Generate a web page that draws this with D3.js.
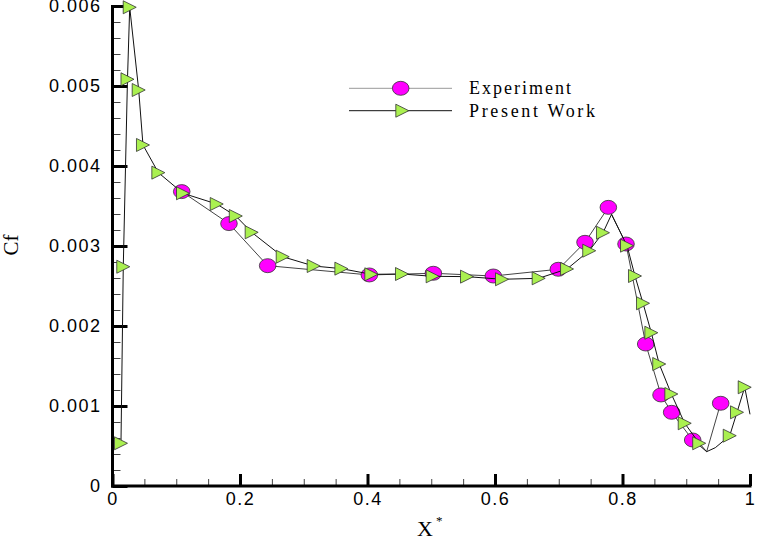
<!DOCTYPE html>
<html>
<head>
<meta charset="utf-8">
<script src="https://cdn.jsdelivr.net/npm/d3@7"></script>
<style>
  body { margin: 0; background: #fff; }
  svg { display: block; }
</style>
</head>
<body>
<div id="chart"></div>
<script>
// data
var expX = [0.1086, 0.1827, 0.2434, 0.4029, 0.5033, 0.5974, 0.6993, 0.7412, 0.7778, 0.8055, 0.8364, 0.8604, 0.8771, 0.9101, 0.932, 0.954];
var expCf = [0.00368, 0.00328, 0.002754, 0.002638, 0.002659, 0.002625, 0.002709, 0.003046, 0.003483, 0.003025, 0.001775, 0.001138, 0.000921, 0.000575, 0.000429, 0.001034];
var expMarked = [1,1,1,1,1,1,1,1,1,1,1,1,1,1,0,1];

var pwX = [0.0133, 0.0169, 0.0235, 0.027, 0.0411, 0.0478, 0.0719, 0.1106, 0.1635, 0.1934, 0.2183, 0.267, 0.3156, 0.359, 0.406, 0.4541, 0.5022, 0.5561, 0.611, 0.6685, 0.713, 0.7478, 0.7694, 0.7827, 0.8071, 0.8196, 0.8322, 0.8452, 0.8576, 0.8766, 0.8976, 0.9203, 0.932, 0.9456, 0.9682, 0.9796, 0.9917, 1.0];
var pwCf = [0.000534, 0.002741, 0.005084, 0.005984, 0.00495, 0.004263, 0.003917, 0.003659, 0.003525, 0.003375, 0.003171, 0.002866, 0.00275, 0.002717, 0.002646, 0.00265, 0.002621, 0.002617, 0.002584, 0.002596, 0.002713, 0.002941, 0.003166, 0.003394, 0.003004, 0.002625, 0.002284, 0.001916, 0.001525, 0.00115, 0.000784, 0.000534, 0.000429, 0.000479, 0.000629, 0.000921, 0.001234, 0.000896];
var pwMarked = [1,1,1,1,1,1,1,1,1,1,1,1,1,1,1,1,1,1,1,1,1,1,1,0,1,1,1,1,1,1,1,1,0,0,1,1,1,0];

var xMajor = [0, 0.2, 0.4, 0.6, 0.8, 1];
var xMajorLabels = ["0", "0.2", "0.4", "0.6", "0.8", "1"];
var yMajor = [0, 0.001, 0.002, 0.003, 0.004, 0.005, 0.006];
var yMajorLabels = ["0", "0.001", "0.002", "0.003", "0.004", "0.005", "0.006"];
var seriesNames = ["Experiment", "Present Work"];

var W = 757, H = 539;
var svg = d3.select("#chart").append("svg")
    .attr("width", W)
    .attr("height", H);

var x = d3.scaleLinear().domain([0, 1]).range([112.5, 750]);
var y = d3.scaleLinear().domain([0, 0.006]).range([486, 6]);

var magenta = "#ff00ff", green = "#aaf050";

// minor ticks
var xMinor = d3.range(0, 1.0001, 0.05).filter(function(d) { return Math.abs(d * 5 - Math.round(d * 5)) > 1e-6; });
var yMinor = d3.range(0, 0.00601, 0.0002).filter(function(d) { return Math.abs(d * 1000 - Math.round(d * 1000)) > 1e-6; });

svg.append("g")
    .attr("transform", "translate(0,486)")
    .call(d3.axisBottom(x).tickValues(xMinor).tickSize(-7).tickFormat(""))
    .call(function(g) { g.select(".domain").remove(); })
    .selectAll("line").attr("stroke", "#444").attr("stroke-width", 1);

svg.append("g")
    .attr("transform", "translate(112.5,0)")
    .call(d3.axisLeft(y).tickValues(yMinor).tickSize(-8).tickFormat(""))
    .call(function(g) { g.select(".domain").remove(); })
    .selectAll("line").attr("stroke", "#444").attr("stroke-width", 1);

// major ticks + labels
var xAxis = svg.append("g")
    .attr("transform", "translate(0,486)")
    .call(d3.axisBottom(x).tickValues(xMajor).tickSize(-12).tickPadding(6)
      .tickFormat(function(d, i) { return xMajorLabels[i]; }));
xAxis.select(".domain").remove();
xAxis.selectAll("line").attr("stroke", "#000").attr("stroke-width", 3);
xAxis.selectAll("text")
    .attr("fill", "#000")
    .style("font-family", "Liberation Sans, Arial, sans-serif")
    .style("font-size", "18px")
    .style("letter-spacing", "1.5px");

var yAxis = svg.append("g")
    .attr("transform", "translate(112.5,0)")
    .call(d3.axisLeft(y).tickValues(yMajor).tickSize(-15).tickPadding(11)
      .tickFormat(function(d, i) { return yMajorLabels[i]; }));
yAxis.select(".domain").remove();
yAxis.selectAll("line").attr("stroke", "#000").attr("stroke-width", 3);
yAxis.selectAll("text")
    .attr("fill", "#000")
    .style("font-family", "Liberation Sans, Arial, sans-serif")
    .style("font-size", "18px")
    .style("letter-spacing", "1.5px");

// axis lines
svg.append("line")
    .attr("x1", x(0) - 1.5).attr("x2", x(1) + 1.5)
    .attr("y1", y(0)).attr("y2", y(0))
    .attr("stroke", "#000").attr("stroke-width", 3);
svg.append("line")
    .attr("x1", x(0)).attr("x2", x(0))
    .attr("y1", y(0.006) - 1).attr("y2", y(0) + 1.5)
    .attr("stroke", "#000").attr("stroke-width", 3);

// axis titles
svg.append("text")
    .attr("transform", "translate(18,245) rotate(-90)")
    .style("text-anchor", "middle")
    .style("font-family", "Liberation Serif, Times New Roman, serif")
    .style("font-size", "21px")
    .text("Cf");

var xt = svg.append("text")
    .attr("x", 417).attr("y", 536)
    .style("font-family", "Liberation Serif, Times New Roman, serif")
    .style("font-size", "22px")
    .text("X");
xt.append("tspan")
    .attr("dx", 3).attr("dy", -11)
    .style("font-size", "13px")
    .text("*");

// series
var expData = expX.map(function(d, i) { return {x: d, y: expCf[i], m: expMarked[i]}; });
var pwData = pwX.map(function(d, i) { return {x: d, y: pwCf[i], m: pwMarked[i]}; });

var line = d3.line()
    .x(function(d) { return x(d.x); })
    .y(function(d) { return y(d.y); });

var tri = "M-6.5,-6.5L6.5,0L-6.5,6.5Z";

svg.append("path")
    .datum(expData)
    .attr("d", line)
    .attr("fill", "none")
    .attr("stroke", "#444")
    .attr("stroke-width", 1);

svg.selectAll(".exp")
    .data(expData.filter(function(d) { return d.m; }))
  .enter().append("ellipse")
    .attr("class", "exp")
    .attr("cx", function(d) { return x(d.x); })
    .attr("cy", function(d) { return y(d.y); })
    .attr("rx", 8.3)
    .attr("ry", 7)
    .attr("fill", magenta)
    .attr("stroke", "#333")
    .attr("stroke-width", 0.8);

svg.append("path")
    .datum(pwData)
    .attr("d", line)
    .attr("fill", "none")
    .attr("stroke", "#111")
    .attr("stroke-width", 1);

svg.selectAll(".pw")
    .data(pwData.filter(function(d) { return d.m; }))
  .enter().append("path")
    .attr("class", "pw")
    .attr("transform", function(d) { return "translate(" + x(d.x) + "," + y(d.y) + ")"; })
    .attr("d", tri)
    .attr("fill", green)
    .attr("stroke", "#333")
    .attr("stroke-width", 0.8);

// legend
var legend = svg.append("g");
var legY = [88.3, 110.7];
var legW = [102, 126];

legend.selectAll(".legline")
    .data(seriesNames)
  .enter().append("line")
    .attr("x1", 349).attr("x2", 452)
    .attr("y1", function(d, i) { return legY[i]; })
    .attr("y2", function(d, i) { return legY[i]; })
    .attr("stroke", function(d, i) { return i == 0 ? "#999" : "#111"; })
    .attr("stroke-width", 1);

legend.append("ellipse")
    .attr("cx", 400.7).attr("cy", legY[0])
    .attr("rx", 8.3).attr("ry", 7)
    .attr("fill", magenta).attr("stroke", "#333").attr("stroke-width", 0.8);

legend.append("path")
    .attr("transform", "translate(402.3," + legY[1] + ")")
    .attr("d", tri)
    .attr("fill", green).attr("stroke", "#333").attr("stroke-width", 0.8);

legend.selectAll(".legtext")
    .data(seriesNames)
  .enter().append("text")
    .attr("x", 469)
    .attr("y", function(d, i) { return legY[i] + 5.8; })
    .attr("textLength", function(d, i) { return legW[i]; })
    .attr("lengthAdjust", "spacing")
    .style("font-family", "Liberation Serif, Times New Roman, serif")
    .style("font-size", "18px")
    .text(function(d) { return d; });
</script>
</body>
</html>
